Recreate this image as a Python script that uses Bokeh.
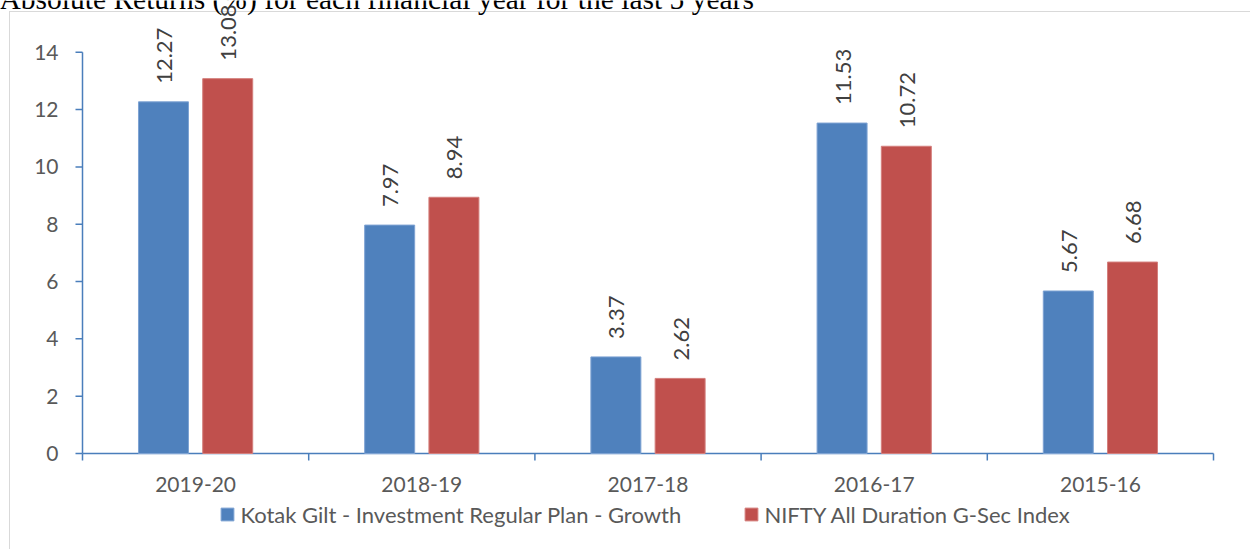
import numpy as np
from bokeh.plotting import figure
from bokeh.models import ColumnDataSource, Range1d, LabelSet, Legend, LegendItem
from bokeh.core.properties import value
from bokeh.embed import file_html
from bokeh.resources import INLINE

# ---------------- data ----------------
years = ["2019-20", "2018-19", "2017-18", "2016-17", "2015-16"]
kotak = [12.27, 7.97, 3.37, 11.53, 5.67]
nifty = [13.08, 8.94, 2.62, 10.72, 6.68]
series_names = ["Kotak Gilt - Investment Regular Plan - Growth",
                "NIFTY All Duration G-Sec Index"]
y_ticks = [0, 2, 4, 6, 8, 10, 12, 14]
y_tick_labels = [str(t) for t in y_ticks]
title_text = "Absolute Returns (%) for each financial year for the last 5 years"

# ---------------- layout (canvas pixels) ----------------
W, H = 1250, 549
FL, FR = 82, 1213          # plot area left/right
Y0 = 453                   # canvas y of value 0
px_per_unit = 28.66
n = len(years)
cat_px = (FR - FL) / n


def xd(px):   # horizontal pixel offset from the plot-area left edge -> data units
    return px / cat_px


def yd(px):   # vertical pixel offset (up positive) from the zero line -> data units
    return px / px_per_unit


AXIS_COL = "#4a7ebb"
TXT_COL = "#595959"
BLUE, RED = "#4f81bd", "#c0504d"
BORDER = "#d9d9d9"

centers = np.arange(n) + 0.5          # category centres
bounds = np.arange(n + 1)             # category boundaries
off, bw = 0.142, 0.221

p = figure(width=W, height=H,
           x_range=Range1d(xd(-FL), n + xd(W - FR)),
           y_range=Range1d(yd(-(H - Y0)), yd(Y0)),
           output_backend="svg", toolbar_location=None,
           x_axis_location=None, y_axis_location=None,
           min_border_left=0, min_border_right=0, min_border_top=0, min_border_bottom=0)
# light grey chart-area border (left and top edges), drawn behind a transparent canvas
p.styles = {
    "background": (f"linear-gradient({BORDER},{BORDER}) 9px 11px / 1px 2000px no-repeat, "
                   f"linear-gradient({BORDER},{BORDER}) 9px 11px / 3000px 1px no-repeat, white")
}
p.outline_line_color = None
p.grid.visible = False
p.background_fill_color = None
p.border_fill_color = None

tick_x = xd(7)
tick_y = yd(7)

# value (y) axis: line 0..14, outward ticks, labels
p.segment(x0=[0], y0=[0], x1=[0], y1=[max(y_ticks)], line_color=AXIS_COL, line_width=1.5)
p.segment(x0=0, y0=y_ticks, x1=-tick_x, y1=y_ticks, line_color=AXIS_COL, line_width=1.5)
p.text(x=-xd(24), y=y_ticks, text=y_tick_labels, text_align="right",
       text_baseline="middle", text_font=value("Lato"), text_font_size=value("21px"),
       text_color=TXT_COL)

# category (x) axis at value 0: line, boundary ticks, centred labels
p.segment(x0=[0], y0=[0], x1=[n], y1=[0], line_color=AXIS_COL, line_width=1.5)
p.segment(x0=bounds, y0=0, x1=bounds, y1=-tick_y, line_color=AXIS_COL, line_width=1.5)
p.text(x=centers, y=-yd(30.5), text=years, text_align="center",
       text_baseline="middle", text_font=value("Lato"), text_font_size=value("21px"),
       text_color=TXT_COL)

# bars
src = ColumnDataSource(dict(xk=centers - off, xn=centers + off,
                            kotak=kotak, nifty=nifty,
                            kotak_lbl=[f"{v:.2f}" for v in kotak],
                            nifty_lbl=[f"{v:.2f}" for v in nifty]))
r1 = p.vbar(x="xk", top="kotak", width=bw, source=src,
            fill_color=BLUE, line_color="#7ea3d3", line_width=1)
r2 = p.vbar(x="xn", top="nifty", width=bw, source=src,
            fill_color=RED, line_color="#d47f7c", line_width=1)

for xf, fld in (("xk", "kotak"), ("xn", "nifty")):
    p.add_layout(LabelSet(x=xf, y=fld, text=fld + "_lbl",
                          source=src, angle=np.pi / 2, text_align="left",
                          text_baseline="middle", y_offset=18, x_offset=1,
                          text_font=value("Lato"), text_font_size=value("22px"),
                          text_color="#404040"))

# legend (below the category labels)
legend = Legend(items=[LegendItem(label=series_names[0], renderers=[r1]),
                       LegendItem(label=series_names[1], renderers=[r2])],
                orientation="horizontal", location=(219.4, H - 527.6),
                glyph_width=16, glyph_height=16, label_height=16, label_width=443,
                label_standoff=5, spacing=60, padding=0, margin=0,
                border_line_color=None, background_fill_alpha=0,
                label_text_font="Lato", label_text_font_size="22px",
                label_text_color=TXT_COL)
p.add_layout(legend)

# title (partially cut off at the top edge, as in the source)
p.text(x=[xd(-1 - FL)], y=[yd(Y0 + 2)], text=[title_text], text_align="left",
       text_baseline="alphabetic", text_font=value("Liberation Serif"),
       text_font_size=value("29.5px"), text_color="black")

open("out.html", "w").write(file_html(p, INLINE))
